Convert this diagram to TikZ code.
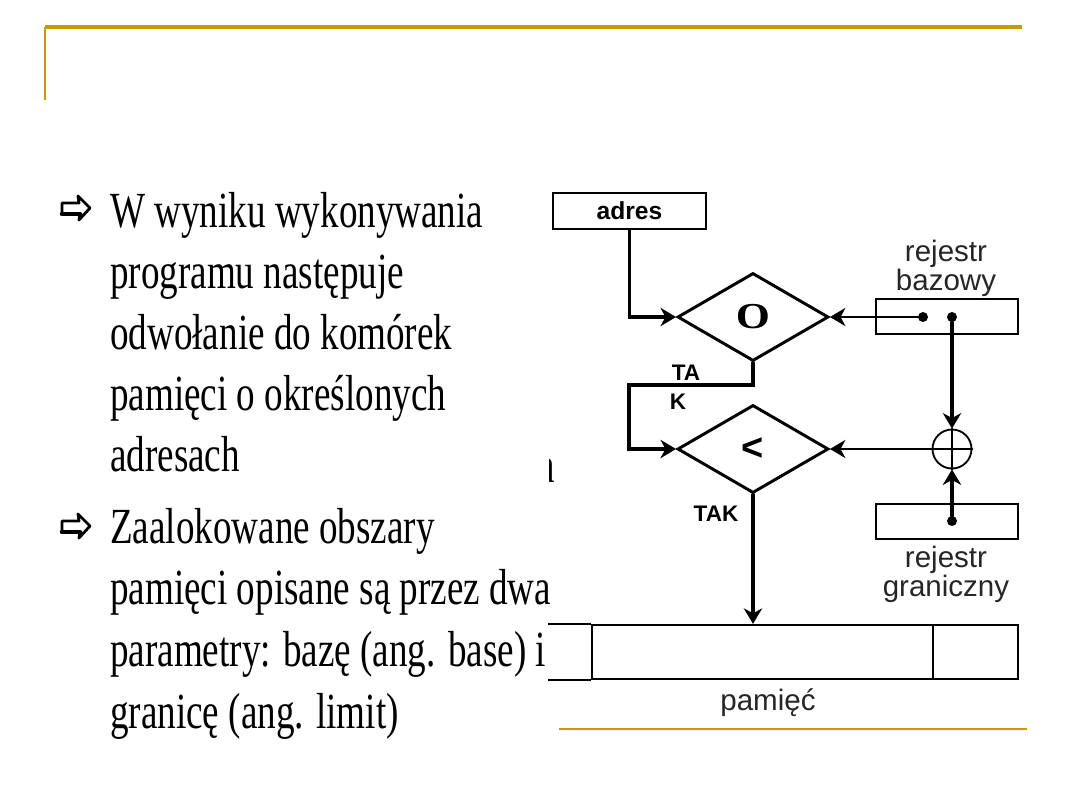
\documentclass[tikz,border=0pt]{standalone}
\usepackage{fontspec}
\setmainfont{Liberation Serif}
\setsansfont{Liberation Sans}
\usetikzlibrary{arrows.meta,shapes.geometric}
\definecolor{gold}{RGB}{204,153,0}

\begin{document}
\begin{tikzpicture}[x=0.025cm,y=-0.025cm,>={Stealth[length=11pt,width=13pt,inset=3.5pt]},line cap=round,
  slide/.style={font=\fontsize{36}{40}\selectfont,xscale=0.733,anchor=base west,inner sep=0pt},
  regbox/.style={draw,line width=1.5pt,minimum width=3.55cm,minimum height=0.875cm,inner sep=0pt},
  cmpbox/.style={diamond,draw,line width=2.1pt,minimum width=3.775cm,minimum height=2.2cm,inner sep=0pt},
  regdot/.style={circle,fill,inner sep=0pt,minimum size=0.25cm},
  lbl/.style={font=\sffamily\fontsize{21}{19}\selectfont,text=black!85,align=center,inner sep=0pt},
  taklbl/.style={font=\sffamily\bfseries\fontsize{16}{16}\selectfont,inner sep=0pt},
  flow/.style={->,line width=2.2pt},
  feed/.style={->,line width=1.1pt}]
\fill[white] (0,0) rectangle (1080,810);
\useasboundingbox (0,0) rectangle (1080,810);
% ramka slajdu
\draw[gold,line width=2.2pt,line cap=butt] (45,27) -- (1022,27);
\draw[gold,line width=1.4pt,line cap=butt] (45,27) -- (45,100);
\draw[gold,line width=1.4pt,line cap=butt] (559,729) -- (1027,729);
% tekst po lewej
\foreach \y in {208,526}{
  \draw[line width=2pt,line join=round,shift={(62,\y)}] (0,-5) -- (17,-5) -- (16,-12) -- (28,0) -- (17,12) -- (18,6) -- (0,6) -- cycle;
  \draw[line width=3.2pt,shift={(62,\y)}] (0,6) -- (18,6);
}
\foreach \t [count=\i] in {W wyniku wykonywania,programu następuje,odwołanie do komórek,pamięci o określonych,adresach}
  \node[slide] (a\i) at (110,{227+61*(\i-1)}) {\t};
\foreach \t [count=\i] in {Zaalokowane obszary,pamięci opisane są przez dwa,parametry: bazę (ang. base) i,granicę (ang. limit)}
  \node[slide] (b\i) at (110,{543+61.7*(\i-1)}) {\t};
\begin{scope}
\clip (549,450) rectangle (562,495);
\node[slide] (cut) at (538,482) {a};
\end{scope}
% schemat
\node[draw,line width=1.5pt,minimum width=3.825cm,minimum height=0.9cm,inner sep=0pt,
  font=\sffamily\bfseries\fontsize{17.5}{18}\selectfont] (adres) at (629.5,211) {adres};
\node[cmpbox,font=\bfseries\fontsize{26}{26}\selectfont] (d1) at (753,317) {\scalebox{1.2}[1]{O}};
\node[cmpbox,font=\sffamily\bfseries\fontsize{27}{27}\selectfont] (d2) at (753,449) {<};
\node[regbox] (base) at (947,316.5) {};
\node[regbox] (limit) at (947,521.5) {};
\node[regdot] (b1) at (923,317) {};
\node[regdot] (b2) at (952,317) {};
\node[regdot] (g1) at (952,521) {};
\node[draw,circle,line width=1.3pt,minimum size=0.975cm,inner sep=0pt] (sum) at (952,449) {};
\draw[line width=1.3pt] (sum.north) -- (sum.south) (sum.west) -- (sum.east);
\node[draw,line width=1.6pt,minimum width=8.525cm,minimum height=1.35cm,inner sep=0pt] (mem) at (762.5,652) {};
\node[draw,line width=1.6pt,minimum width=2.125cm,minimum height=1.35cm,inner sep=0pt] (memr) at (975.5,652) {};
\draw[line width=1.6pt,line cap=butt] (mem.north west) -- ++(-43,0) (mem.south west) -- ++(-43,0);
\coordinate (loop) at (629,385);
% etykiety
\node[lbl] (lbase) at (946,268) {rejestr\\bazowy};
\node[lbl] (llimit) at (946,574) {rejestr\\graniczny};
\node[lbl] (lmem) at (768,703) {pamięć};
\node[taklbl] (ta) at (686,373) {TA};
\node[taklbl] (k) at (678,402) {K};
\node[taklbl] (tak) at (716,514) {TAK};
% polaczenia
\draw[flow] (adres.south) |- (d1.west);
\draw[feed] (b1) -- (d1.east);
\draw[flow] (b2) -- (sum.north);
\draw[flow] (g1) -- (sum.south);
\draw[feed] (sum.west) -- (d2.east);
\draw[flow] (d1.south) |- (loop) |- (d2.west);
\draw[flow] (d2.south) -- (d2.south |- mem.north);
\end{tikzpicture}
\end{document}
